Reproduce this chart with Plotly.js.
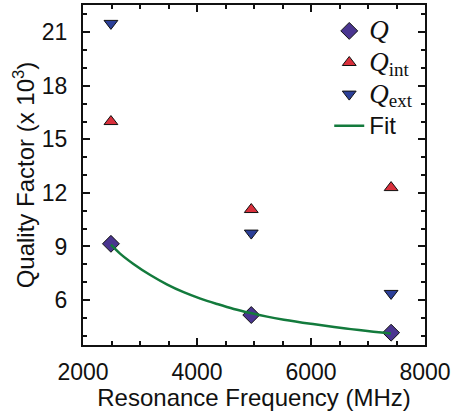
<!DOCTYPE html>
<html><head><meta charset="utf-8">
<script src="https://cdn.plot.ly/plotly-3.0.1.min.js"></script>
<style>body{margin:0;padding:0;background:#fff}#chart{width:451px;height:411px}</style>
</head><body><div id="chart"></div>
<script>
const freq = [2490, 4952, 7405];
const qLoaded = [9.15, 5.16, 4.17];
const qInt = [16.0, 11.07, 12.3];
const qExt = [21.5, 9.75, 6.37];
const fitFreq = [2490, 2650, 2885, 3180, 3470, 3765, 4060, 4350, 4645, 4940, 5230, 5525, 5995, 6405, 6700, 6990, 7285, 7402];
const fitQ = [9.10, 8.60, 8.02, 7.40, 6.88, 6.44, 6.08, 5.78, 5.50, 5.27, 5.07, 4.90, 4.67, 4.49, 4.37, 4.26, 4.16, 4.12];
const xTickVals = [2000, 4000, 6000, 8000];
const yTickVals = [6, 9, 12, 15, 18, 21];

const serif = "'Liberation Serif', 'DejaVu Serif', serif";
const sans = "'Liberation Sans', Arial, sans-serif";
const bigQ = '<span style="font-size:27px"><i>Q</i></span>';
const subTxt = s => '<sub><span style="font-size:19px">' + s + '</span></sub>';

const traces = [
  {x: freq, y: qLoaded, mode: 'markers', type: 'scatter',
   name: bigQ,
   marker: {symbol: 'diamond', size: 13, color: '#4a3590', line: {color: '#111', width: 1}}},
  {x: freq, y: qInt, mode: 'markers', type: 'scatter',
   name: bigQ + subTxt('int'),
   marker: {symbol: 'triangle-up', size: 12, color: '#d9303c', line: {color: '#111', width: 1}}},
  {x: freq, y: qExt, mode: 'markers', type: 'scatter',
   name: bigQ + subTxt('ext'),
   marker: {symbol: 'triangle-down', size: 12, color: '#2b3f98', line: {color: '#111', width: 1}}},
  {x: fitFreq, y: fitQ, mode: 'lines', type: 'scatter', line: {shape: 'spline', color: '#137a3c', width: 2.5},
   name: '<span style="font-family:Liberation Sans, Arial, sans-serif;font-size:24px">Fit</span>'}
];

const layout = {
  width: 451, height: 411,
  margin: {l: 83, r: 26, t: 5, b: 66},
  paper_bgcolor: '#fff', plot_bgcolor: '#fff',
  font: {family: sans, size: 23, color: '#111'},
  showlegend: true,
  legend: {x: 0.72, xanchor: 'left', y: 0.985, yanchor: 'top', bgcolor: 'rgba(0,0,0,0)',
           font: {family: serif, size: 22, color: '#111'}, itemwidth: 30, tracegroupgap: 0},
  xaxis: {
    range: [2000, 8000], tickvals: xTickVals, ticktext: xTickVals.map(String),
    ticks: 'inside', ticklen: 7, tickwidth: 2, tickcolor: '#111',
    minor: {dtick: 500, tick0: 2000, ticks: 'inside', ticklen: 4, tickwidth: 2, tickcolor: '#111'},
    showline: true, linewidth: 2, linecolor: '#111', mirror: 'allticks',
    showgrid: false, zeroline: false,
    tickfont: {family: sans, size: 23, color: '#111'},
    ticklabelstandoff: 5,
    title: {text: 'Resonance Frequency (MHz)', font: {family: sans, size: 24, color: '#111'}, standoff: 2}
  },
  yaxis: {
    range: [3.48, 22.53], tickvals: yTickVals, ticktext: yTickVals.map(String),
    ticks: 'inside', ticklen: 7, tickwidth: 2, tickcolor: '#111',
    minor: {dtick: 1, tick0: 0, ticks: 'inside', ticklen: 4, tickwidth: 2, tickcolor: '#111'},
    showline: true, linewidth: 2, linecolor: '#111', mirror: 'allticks',
    showgrid: false, zeroline: false,
    tickfont: {family: sans, size: 23, color: '#111'},
    ticklabelstandoff: 9,
    title: {text: 'Quality Factor (x 10<sup>3</sup>)', font: {family: sans, size: 24, color: '#111'}, standoff: 0}
  }
};

Plotly.newPlot('chart', traces, layout, {displayModeBar: false, staticPlot: true});
</script></body></html>
